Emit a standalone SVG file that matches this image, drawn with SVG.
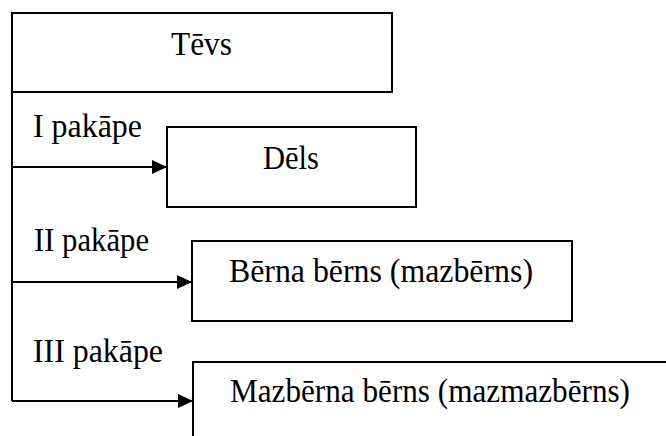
<svg xmlns="http://www.w3.org/2000/svg" width="666" height="436" viewBox="0 0 666 436">
<style>
.box{fill:#fff;stroke:#000;stroke-width:2}
.ln{fill:none;stroke:#000;stroke-width:2}
text{font-family:"Liberation Serif","Times New Roman",serif;font-size:33px;fill:#000}
</style>
<defs>
<marker id="ah" markerWidth="15" markerHeight="14" refX="15" refY="7" orient="auto" markerUnits="userSpaceOnUse">
<path d="M0,0 L15,7 L0,14 Z" fill="#000"/>
</marker>
</defs>
<g id="tevs">
<rect class="box" x="12" y="13" width="380" height="79"/>
<text x="171" y="55" textLength="61" lengthAdjust="spacingAndGlyphs">Tēvs</text>
</g>
<g id="dels">
<rect class="box" x="167" y="127" width="249" height="80"/>
<text x="263" y="169" textLength="56" lengthAdjust="spacingAndGlyphs">Dēls</text>
</g>
<g id="mazberns">
<rect class="box" x="192" y="241" width="380" height="80"/>
<text x="229" y="282" textLength="304" lengthAdjust="spacingAndGlyphs">Bērna bērns (mazbērns)</text>
</g>
<g id="mazmazberns">
<rect class="box" x="193" y="362" width="520" height="120"/>
<text x="230" y="402" textLength="400" lengthAdjust="spacingAndGlyphs">Mazbērna bērns (mazmazbērns)</text>
</g>
<g id="connectors">
<path class="ln" d="M12,92 V401"/>
<path class="ln" d="M12,167 H167" marker-end="url(#ah)"/>
<path class="ln" d="M12,282 H192" marker-end="url(#ah)"/>
<path class="ln" d="M12,401 H193" marker-end="url(#ah)"/>
<text x="33" y="137" textLength="109" lengthAdjust="spacingAndGlyphs">I pakāpe</text>
<text x="34" y="251" textLength="115" lengthAdjust="spacingAndGlyphs">II pakāpe</text>
<text x="33" y="362" textLength="130" lengthAdjust="spacingAndGlyphs">III pakāpe</text>
</g>
</svg>
